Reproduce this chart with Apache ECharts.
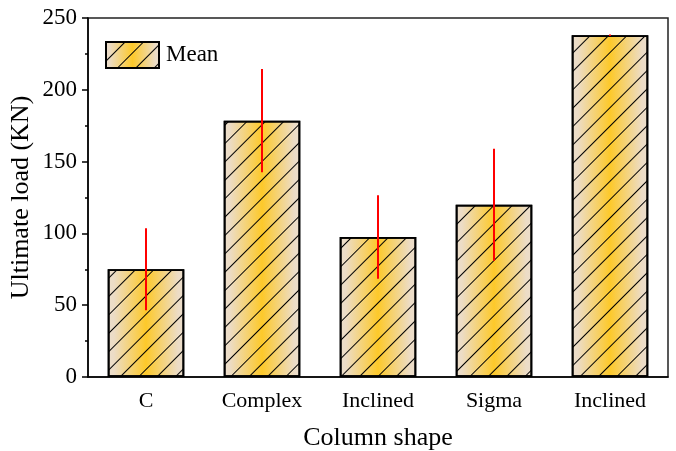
<!DOCTYPE html>
<html>
<head>
<meta charset="utf-8">
<script src="https://cdn.jsdelivr.net/npm/echarts@6/dist/echarts.min.js"></script>
<style>html,body{margin:0;padding:0;background:#fff}#c{width:676px;height:451px}</style>
</head>
<body>
<div id="c"></div>
<script>
var categories = ['C', 'Complex', 'Inclined', 'Sigma', 'Inclined'];
var meanValues = [75, 178.5, 97.5, 120, 238];
var errorValues = [28.5, 36, 29, 39, 0.5];
var yTicks = [0, 50, 100, 150, 200, 250];

var FONT = '"Liberation Serif", "Times New Roman", serif';
var grad = new echarts.graphic.LinearGradient(0, 0, 1, 0, [
  {offset: 0, color: '#ecdecb'},
  {offset: 0.08, color: '#ecdcc6'},
  {offset: 0.5, color: '#fdc92a'},
  {offset: 0.92, color: '#ecdcc6'},
  {offset: 1, color: '#ecdecb'}
]);
var hatch = {
  symbol: 'rect', symbolSize: 1,
  dashArrayX: [[1, 0]], dashArrayY: [1, 12],
  rotation: -Math.PI / 4, color: '#000'
};

var chart = echarts.init(document.getElementById('c'), null, {renderer: 'canvas'});
chart.setOption({
  animation: false,
  backgroundColor: '#fff',
  grid: {left: 88, top: 18, right: 8, bottom: 74, show: true, borderColor: '#222', borderWidth: 1.5,
    containLabel: false, outerBoundsMode: 'none'},
  legend: {
    show: true, left: 105, top: 41, padding: 0, itemWidth: 53, itemHeight: 26, itemGap: 8,
    data: [{name: 'Mean', icon: 'rect'}],
    textStyle: {fontFamily: FONT, fontSize: 23, color: '#000', padding: [2, 0, 0, 2]}
  },
  xAxis: {
    type: 'category',
    data: categories.map(function (c, i) { return String(i); }),
    name: 'Column shape', nameLocation: 'middle', nameGap: 48, nameMoveOverlap: false,
    nameTextStyle: {fontFamily: FONT, fontSize: 26, color: '#000'},
    axisLine: {lineStyle: {color: '#000', width: 1.5}},
    axisTick: {alignWithLabel: true, length: 6, lineStyle: {color: '#000', width: 1.5}},
    axisLabel: {
      margin: 13, fontFamily: FONT, fontSize: 22, color: '#000',
      formatter: function (v) { return categories[+v]; }
    }
  },
  yAxis: {
    type: 'value', min: yTicks[0], max: yTicks[yTicks.length - 1], interval: 50,
    name: 'Ultimate load (KN)', nameLocation: 'middle', nameGap: 54, nameMoveOverlap: false,
    nameTextStyle: {fontFamily: FONT, fontSize: 26, color: '#000'},
    axisLine: {show: true, lineStyle: {color: '#000', width: 1.5}},
    axisTick: {show: true, length: 6, lineStyle: {color: '#000', width: 1.5}},
    minorTick: {show: true, splitNumber: 2, length: 3, lineStyle: {color: '#000', width: 1.5}},
    splitLine: {show: false},
    axisLabel: {margin: 11, fontFamily: FONT, fontSize: 23, color: '#000'}
  },
  series: [
    {
      name: 'Mean', type: 'bar', barWidth: '66%',
      data: meanValues,
      itemStyle: {color: grad, borderColor: '#000', borderWidth: 1.8, decal: hatch}
    },
    {
      name: 'err', type: 'custom',
      data: meanValues.map(function (m, i) { return [i, m - errorValues[i], m + errorValues[i]]; }),
      renderItem: function (params, api) {
        var p1 = api.coord([api.value(0), api.value(1)]);
        var p2 = api.coord([api.value(0), api.value(2)]);
        return {type: 'line', shape: {x1: p1[0], y1: p1[1], x2: p2[0], y2: p2[1]},
          style: {stroke: '#ff0000', lineWidth: 2}};
      },
      z: 5
    }
  ]
});
</script>
</body>
</html>
